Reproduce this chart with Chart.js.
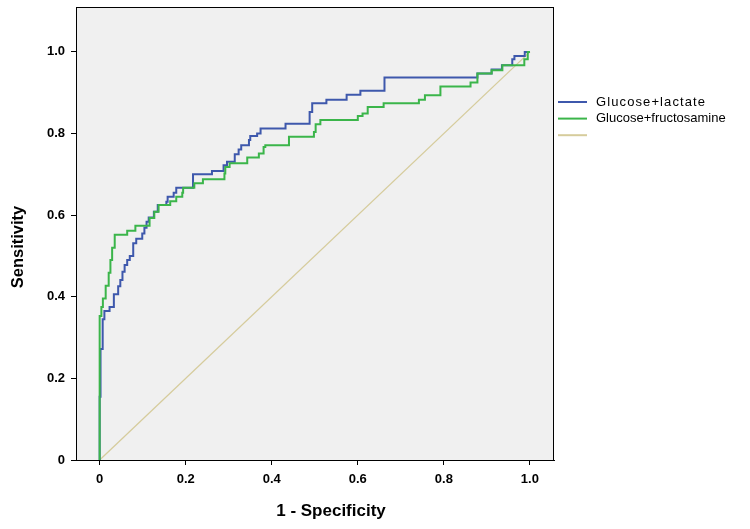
<!DOCTYPE html>
<html>
<head>
<meta charset="utf-8">
<script src="https://cdn.jsdelivr.net/npm/chart.js@4"></script>
<style>
  body { margin: 0; background: #fff; }
</style>
</head>
<body>
<canvas id="roc" width="750" height="529"></canvas>
<script>
// ROC curves: each point is where the step rises to
const lactateFpr = [0, 0, 0.002, 0.007, 0.011, 0.023, 0.033, 0.043, 0.048, 0.053, 0.058, 0.064, 0.070, 0.078, 0.085, 0.099, 0.104, 0.109, 0.114, 0.126, 0.135, 0.155, 0.158, 0.172, 0.178, 0.217, 0.261, 0.288, 0.296, 0.314, 0.323, 0.329, 0.347, 0.350, 0.366, 0.374, 0.432, 0.488, 0.494, 0.527, 0.574, 0.606, 0.662, 0.878, 0.911, 0.935, 0.959, 0.964, 0.988, 1.0];
const lactateTpr = [0, 0.155, 0.272, 0.345, 0.365, 0.375, 0.406, 0.426, 0.441, 0.461, 0.478, 0.490, 0.500, 0.531, 0.542, 0.555, 0.569, 0.584, 0.594, 0.608, 0.625, 0.633, 0.645, 0.655, 0.667, 0.700, 0.708, 0.722, 0.731, 0.749, 0.761, 0.771, 0.784, 0.794, 0.800, 0.812, 0.824, 0.853, 0.874, 0.883, 0.895, 0.905, 0.937, 0.947, 0.957, 0.967, 0.982, 0.990, 1.0, 1.0];

const fructoFpr = [0, 0, 0.004, 0.0075, 0.014, 0.021, 0.025, 0.029, 0.035, 0.064, 0.083, 0.116, 0.127, 0.137, 0.164, 0.178, 0.192, 0.194, 0.220, 0.240, 0.290, 0.292, 0.302, 0.343, 0.370, 0.381, 0.385, 0.440, 0.498, 0.502, 0.513, 0.600, 0.611, 0.623, 0.660, 0.742, 0.756, 0.792, 0.862, 0.878, 0.911, 0.936, 0.987, 0.995, 1.0];
const fructoTpr = [0, 0.353, 0.375, 0.396, 0.427, 0.459, 0.490, 0.520, 0.552, 0.562, 0.574, 0.593, 0.608, 0.625, 0.634, 0.645, 0.655, 0.667, 0.678, 0.688, 0.702, 0.718, 0.727, 0.741, 0.751, 0.767, 0.771, 0.792, 0.804, 0.823, 0.833, 0.843, 0.849, 0.865, 0.874, 0.883, 0.894, 0.915, 0.925, 0.947, 0.955, 0.967, 0.982, 1.0, 1.0];

const refFpr = [0, 1];
const refTpr = [0, 1];

const seriesLabels = ['Glucose+lactate', 'Glucose+fructosamine', ''];
const tickValues = [0, 0.2, 0.4, 0.6, 0.8, 1.0];
const tickLabels = ['0', '0.2', '0.4', '0.6', '0.8', '1.0'];

const toPoints = (xs, ys) => xs.map((x, i) => ({ x: x, y: ys[i] }));

const FONT = "'Liberation Sans', Arial, sans-serif";

// grey plot area, black frame, axis titles and the legend
const decor = {
  id: 'decor',
  beforeDraw(chart) {
    const { ctx, chartArea: a } = chart;
    ctx.save();
    ctx.fillStyle = '#f0f0f0';
    ctx.fillRect(a.left, a.top, a.right - a.left, a.bottom - a.top);
    ctx.restore();
  },
  afterDraw(chart) {
    const { ctx, chartArea: a } = chart;
    ctx.save();
    ctx.strokeStyle = '#000';
    ctx.lineWidth = 1;
    ctx.strokeRect(a.left + 0.5, a.top + 0.5, a.right - a.left - 1, a.bottom - a.top);

    ctx.fillStyle = '#000';
    ctx.textAlign = 'center';
    ctx.textBaseline = 'middle';
    ctx.font = 'bold 17px ' + FONT;
    ctx.fillText('1 - Specificity', 331, 511);

    ctx.save();
    ctx.translate(18, 247);
    ctx.rotate(-Math.PI / 2);
    ctx.font = 'bold 16.5px ' + FONT;
    ctx.fillText('Sensitivity', 0, 0);
    ctx.restore();

    // legend
    ctx.textAlign = 'left';
    ctx.font = '13px ' + FONT;
    const spacing = ['1.1px', '0px', '0px'];
    chart.data.datasets.forEach((ds, i) => {
      const y = 102 + i * 16.6;
      ctx.strokeStyle = ds.borderColor;
      ctx.lineWidth = 2;
      ctx.beginPath();
      ctx.moveTo(558, y);
      ctx.lineTo(587, y);
      ctx.stroke();
      ctx.letterSpacing = spacing[i];
      ctx.fillStyle = '#000';
      ctx.fillText(ds.label, 596, y);
    });
    ctx.restore();
  }
};

new Chart(document.getElementById('roc'), {
  type: 'line',
  data: {
    datasets: [
      {
        label: seriesLabels[0],
        data: toPoints(lactateFpr, lactateTpr),
        borderColor: '#3e58ac',
        borderWidth: 2,
        stepped: 'before',
        pointRadius: 0,
        order: 2
      },
      {
        label: seriesLabels[1],
        data: toPoints(fructoFpr, fructoTpr),
        borderColor: '#3bb54a',
        borderWidth: 2,
        stepped: 'before',
        pointRadius: 0,
        order: 1
      },
      {
        label: seriesLabels[2],
        data: toPoints(refFpr, refTpr),
        borderColor: '#d6cc9c',
        borderWidth: 1.3,
        pointRadius: 0,
        order: 3
      }
    ]
  },
  options: {
    responsive: false,
    animation: false,
    devicePixelRatio: 1,
    layout: { padding: { left: 0, right: 196, top: 7, bottom: 0 } },
    plugins: {
      legend: { display: false },
      tooltip: { enabled: false }
    },
    scales: {
      x: {
        type: 'linear',
        min: -0.055,
        max: 1.056,
        afterBuildTicks: (scale) => { scale.ticks = tickValues.map(v => ({ value: v })); },
        afterFit: (scale) => { scale.height = 69; scale.paddingLeft = 0; scale.paddingRight = 0; },
        ticks: {
          callback: (v, i) => tickLabels[i],
          color: '#000',
          padding: 7,
          maxRotation: 0,
          font: { family: FONT, size: 13, weight: 'bold' }
        },
        grid: { drawOnChartArea: false, tickLength: 5, color: '#000' },
        border: { color: '#000' }
      },
      y: {
        type: 'linear',
        min: 0,
        max: 1.11,
        afterBuildTicks: (scale) => { scale.ticks = tickValues.map(v => ({ value: v })); },
        afterFit: (scale) => { scale.width = 76; scale.paddingTop = 0; scale.paddingBottom = 0; },
        ticks: {
          callback: (v, i) => tickLabels[i],
          color: '#000',
          padding: 6,
          font: { family: FONT, size: 13, weight: 'bold' }
        },
        grid: { drawOnChartArea: false, tickLength: 5, color: '#000' },
        border: { color: '#000' }
      }
    }
  },
  plugins: [decor]
});
</script>
</body>
</html>
